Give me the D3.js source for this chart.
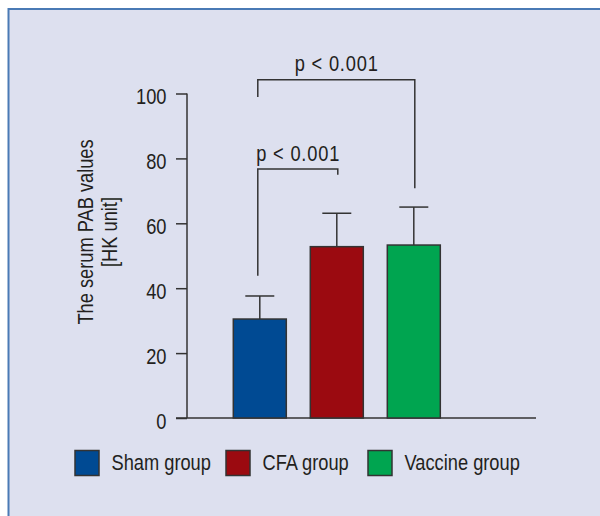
<!DOCTYPE html>
<html>
<head>
<meta charset="utf-8">
<script src="https://cdn.jsdelivr.net/npm/d3@7"></script>
<style>
  html, body { margin: 0; padding: 0; background: #ffffff; }
  svg { display: block; }
  text { font-family: "Liberation Sans", Arial, Helvetica, sans-serif; fill: #231f20; }
</style>
</head>
<body>
<script>
// Serum PAB values per group (mean with upper SD whisker)
const groups = ["Sham group", "CFA group", "Vaccine group"];
const means = [30.5, 52.8, 53.3];
const upperErr = [37.6, 63.1, 65.0];
const colors = ["#004a93", "#9b0a10", "#00a550"];
const yTicks = [0, 20, 40, 60, 80, 100];
const yLabelLines = ["The serum PAB values", "[HK unit]"];

// Significance brackets: from group, to group, bar height, left drop, right drop
const brackets = [
  { from: 0, to: 1, y: 76.7, yLeft: 43.8, yRight: 75.0, label: "p < 0.001" },
  { from: 0, to: 2, y: 104.2, yLeft: 98.9, yRight: 70.8, label: "p < 0.001" }
];

const W = 600, H = 516;
const FS = 22;          // font size
const SX = 0.83;        // horizontal squeeze for a condensed face
const svg = d3.select("body").append("svg").attr("width", W).attr("height", H);

// Condensed text label anchored at (x, y), optionally rotated
function label(x, y, str, anchor, rot) {
  const g = svg.append("g")
    .attr("transform", `translate(${x},${y})` + (rot ? ` rotate(${rot})` : "") + ` scale(${SX},1)`);
  return g.append("text").attr("x", 0).attr("y", 0)
    .attr("text-anchor", anchor || "start").attr("font-size", FS).text(str);
}

// Panel with blue frame on top and left
svg.append("rect").attr("x", 8).attr("y", 8).attr("width", W - 8).attr("height", H - 8)
  .attr("fill", "#dde0ef");
svg.append("line").attr("x1", 8).attr("x2", W).attr("y1", 9).attr("y2", 9)
  .attr("stroke", "#4a7ab5").attr("stroke-width", 2);
svg.append("line").attr("x1", 8.5).attr("x2", 8.5).attr("y1", 8).attr("y2", H)
  .attr("stroke", "#4a7ab5").attr("stroke-width", 2);

const axisX0 = 187, axisX1 = 536;
const y = d3.scaleLinear().domain([0, 100]).range([418, 93.5]);
const x = d3.scaleBand().domain(groups).range([221.3, 452.3])
  .paddingInner(0.3117).paddingOuter(0.1558);

const ink = "#333333";

// Y axis
const yAxis = svg.append("g").attr("transform", `translate(${axisX0},0)`)
  .call(d3.axisLeft(y).tickValues(yTicks).tickSize(11).tickPadding(9).tickFormat(d3.format("d")));
yAxis.select(".domain").remove();
yAxis.selectAll(".tick line").attr("stroke", ink).attr("stroke-width", 1.5);
yAxis.selectAll(".tick text")
  .attr("font-size", FS).attr("fill", "#231f20").style("font-family", null)
  .attr("x", -20.5 / SX).attr("dy", "0.46em")
  .attr("transform", `scale(${SX},1)`);
yAxis.attr("font-family", null).attr("font-size", null);
svg.append("line").attr("x1", axisX0).attr("x2", axisX0)
  .attr("y1", y(100)).attr("y2", y(0)).attr("stroke", ink).attr("stroke-width", 1.5);

// X baseline
svg.append("line").attr("x1", axisX0 - 11).attr("x2", axisX1)
  .attr("y1", y(0)).attr("y2", y(0)).attr("stroke", ink).attr("stroke-width", 1.5);

// Y axis title, two lines
yLabelLines.forEach((t, i) => {
  label(92.5 + i * 24, 232, t, "middle", -90);
});

// Error whiskers (behind bars)
const capW = 29;
groups.forEach((g, i) => {
  const cx = x(g) + x.bandwidth() / 2;
  svg.append("line").attr("x1", cx).attr("x2", cx)
    .attr("y1", y(means[i])).attr("y2", y(upperErr[i]))
    .attr("stroke", ink).attr("stroke-width", 1.5);
  svg.append("line").attr("x1", cx - capW / 2).attr("x2", cx + capW / 2)
    .attr("y1", y(upperErr[i])).attr("y2", y(upperErr[i]))
    .attr("stroke", ink).attr("stroke-width", 1.5);
});

// Bars
svg.selectAll("rect.bar").data(groups).join("rect").attr("class", "bar")
  .attr("x", d => x(d))
  .attr("y", (d, i) => y(means[i]))
  .attr("width", x.bandwidth())
  .attr("height", (d, i) => y(0) - y(means[i]))
  .attr("fill", (d, i) => colors[i])
  .attr("stroke", ink).attr("stroke-width", 1.5);

// Significance brackets
brackets.forEach(b => {
  const xl = x(groups[b.from]) + x.bandwidth() / 2 - 2;
  const xr = x(groups[b.to]) + x.bandwidth() / 2 + 1;
  const path = d3.path();
  path.moveTo(xl, y(b.yLeft));
  path.lineTo(xl, y(b.y));
  path.lineTo(xr, y(b.y));
  path.lineTo(xr, y(b.yRight));
  svg.append("path").attr("d", path.toString()).attr("fill", "none")
    .attr("stroke", ink).attr("stroke-width", 1.5);
  label((xl + xr) / 2, y(b.y) - 8.5, b.label, "middle")
    .attr("textLength", 83 / SX).attr("lengthAdjust", "spacing");
});

// Legend
const legendX = [75, 226, 368];
groups.forEach((g, i) => {
  svg.append("rect").attr("x", legendX[i]).attr("y", 450.5).attr("width", 24).attr("height", 25)
    .attr("fill", colors[i]).attr("stroke", ink).attr("stroke-width", 1.5);
  label(legendX[i] + 36.5, 470, g, "start");
});
</script>
</body>
</html>
